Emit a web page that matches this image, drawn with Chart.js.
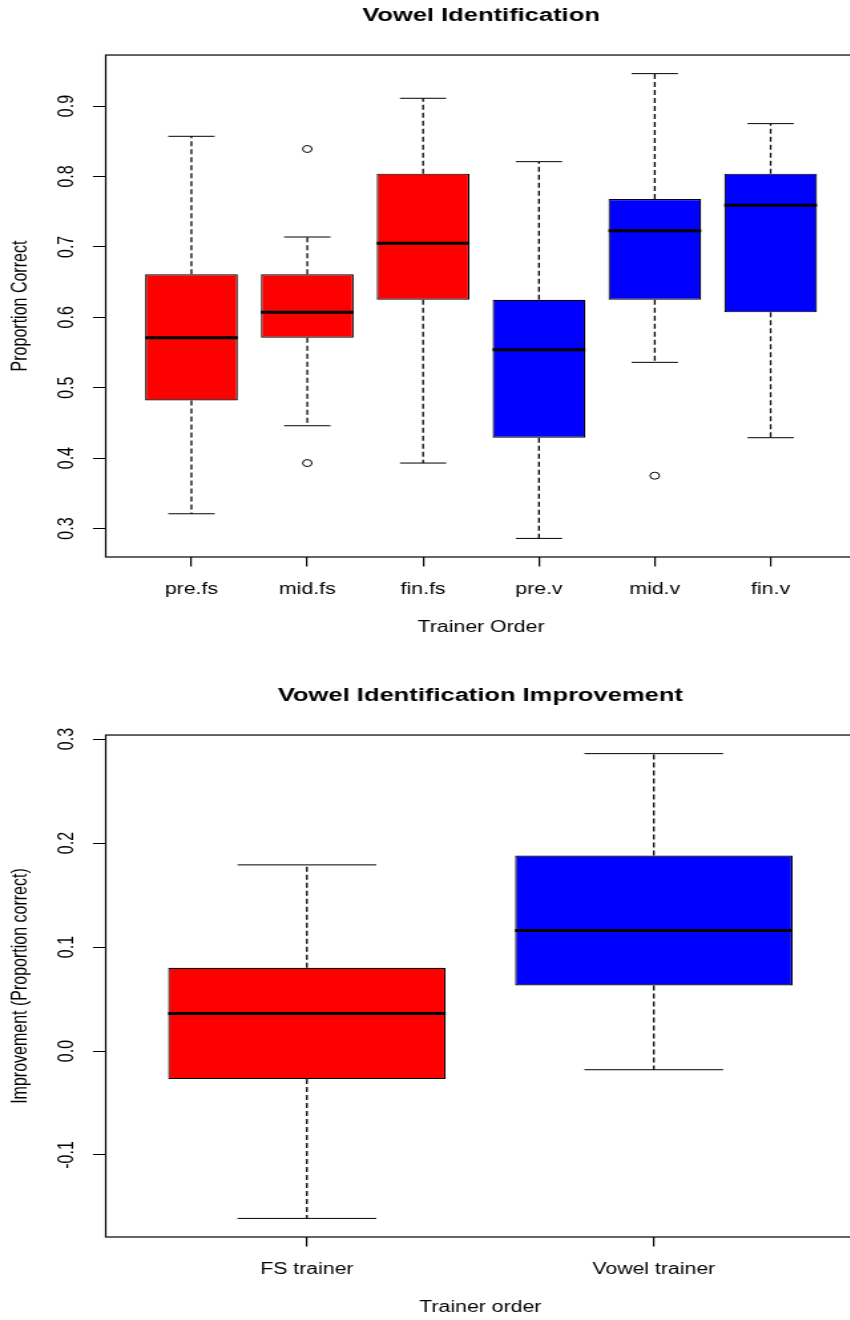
<!DOCTYPE html>
<html>
<head>
<meta charset="utf-8">
<script src="https://cdn.jsdelivr.net/npm/chart.js@4.4.1/dist/chart.umd.min.js"></script>
<style>
  html, body { margin: 0; padding: 0; overflow: hidden; background: #fff; }
  .plot { position: absolute; left: 0; }
  /* the original R plot was stretched sideways (about 1.33x), so the canvases are too */
  #idChart { width: 863px !important; height: 660px !important; }
  #impChart { width: 855px !important; height: 660px !important; }
</style>
</head>
<body>
<div class="plot" style="top:0"><canvas id="idChart" width="649" height="660"></canvas></div>
<div class="plot" style="top:680px"><canvas id="impChart" width="643" height="660"></canvas></div>
<script>
// --------- DATA: Vowel Identification ----------
const orderLabels = ['pre.fs', 'mid.fs', 'fin.fs', 'pre.v', 'mid.v', 'fin.v'];
const idLow    = [0.321, 0.446, 0.393, 0.286, 0.536, 0.429];
const idQ1     = [0.482, 0.571, 0.625, 0.429, 0.625, 0.607];
const idMedian = [0.571, 0.607, 0.705, 0.554, 0.723, 0.759];
const idQ3     = [0.661, 0.661, 0.804, 0.625, 0.768, 0.804];
const idHigh   = [0.857, 0.714, 0.911, 0.821, 0.946, 0.875];
const idOutliers = [[], [0.839, 0.393], [], [], [0.375], []];
const idTicks  = [0.3, 0.4, 0.5, 0.6, 0.7, 0.8, 0.9];

// --------- DATA: Vowel Identification Improvement ----------
const trainerLabels = ['FS trainer', 'Vowel trainer'];
const impLow    = [-0.161, -0.018];
const impQ1     = [-0.027, 0.063];
const impMedian = [0.036, 0.116];
const impQ3     = [0.080, 0.188];
const impHigh   = [0.179, 0.286];
const impOutliers = [[], []];
const impTicks  = [-0.1, 0.0, 0.1, 0.2, 0.3];

const RED = '#FF0000';
const BLUE = '#0000FF';
const FONT = "'Liberation Sans', Arial, sans-serif";

Chart.defaults.font.family = FONT;
Chart.defaults.color = '#000';

// box outline around the plotting region, like R's bty="o"
const framePlugin = {
    id: 'frame',
    afterDraw(chart) {
        const {ctx, chartArea: a} = chart;
        ctx.save();
        ctx.strokeStyle = '#000';
        ctx.lineWidth = 1.2;
        ctx.strokeRect(a.left, a.top, a.right - a.left, a.bottom - a.top);
        ctx.restore();
    }
};

// ---------- build one boxplot chart ----------
function boxplot(canvasId, s) {
    const n = s.labels.length;
    const boxes = [], whiskers = [], caps = [], medians = [], points = [];

    s.low.forEach((lo, i) => {
        const x = i + 1;
        boxes.push({x, y: [s.q1[i], s.q3[i]]});
        whiskers.push({x, y: s.q3[i]}, {x, y: s.high[i]}, {x, y: null},
                      {x, y: s.q1[i]}, {x, y: lo}, {x, y: null});
        caps.push({x: x - 0.2, y: s.high[i]}, {x: x + 0.2, y: s.high[i]}, {x, y: null},
                  {x: x - 0.2, y: lo}, {x: x + 0.2, y: lo}, {x, y: null});
        medians.push({x: x - 0.4, y: s.median[i]}, {x: x + 0.4, y: s.median[i]}, {x, y: null});
        s.outliers[i].forEach(v => points.push({x, y: v}));
    });

    // R style axis limits: 4% past the data
    const all = s.low.concat(s.high, ...s.outliers);
    const lo = Math.min(...all), hi = Math.max(...all);
    const pad = (hi - lo) * 0.04;

    return new Chart(document.getElementById(canvasId), {
        type: 'bar',
        data: {
            datasets: [
                {
                    type: 'line', data: medians, order: 0,
                    borderColor: '#000', borderWidth: 3, pointRadius: 0, fill: false
                },
                {
                    type: 'line', data: points, order: 1, showLine: false,
                    pointRadius: 3.5, pointStyle: 'circle',
                    pointBackgroundColor: 'rgba(0,0,0,0)', pointBorderColor: '#000', pointBorderWidth: 1
                },
                {
                    type: 'bar', data: boxes, order: 2,
                    backgroundColor: s.colors, borderColor: '#000', borderWidth: 1.2,
                    borderSkipped: false, categoryPercentage: 0.8, barPercentage: 1
                },
                {
                    type: 'line', data: whiskers, order: 3,
                    borderColor: '#000', borderWidth: 1.3, borderDash: [5, 3], pointRadius: 0, fill: false
                },
                {
                    type: 'line', data: caps, order: 3,
                    borderColor: '#000', borderWidth: 1, pointRadius: 0, fill: false
                }
            ]
        },
        options: {
            responsive: false,
            animation: false,
            events: [],
            layout: { padding: 0 },
            plugins: {
                legend: { display: false },
                tooltip: { enabled: false },
                title: {
                    display: true,
                    text: s.title,
                    fullSize: false,
                    color: '#000',
                    font: { size: 19.2, weight: 'bold' },
                    padding: { top: 4.5, bottom: 27.5 }
                }
            },
            scales: {
                x: {
                    type: 'linear',
                    min: 0.5 - 0.04 * n,
                    max: n + 0.5 + 0.04 * n,
                    offset: false,
                    afterBuildTicks: axis => { axis.ticks = s.labels.map((_, i) => ({value: i + 1})); },
                    afterFit: scale => { scale.height = 103; },
                    ticks: {
                        callback: (v, i) => s.labels[i],
                        font: { size: 16 },
                        padding: 13.8,
                        maxRotation: 0,
                        autoSkip: false
                    },
                    grid: { drawOnChartArea: false, offset: false, tickLength: 9.6, color: '#000', lineWidth: 1.2 },
                    border: { display: false },
                    title: {
                        display: true, text: s.xTitle,
                        font: { size: 16 }, padding: { top: 0, bottom: 22.4 }
                    }
                },
                y: {
                    type: 'linear',
                    min: lo - pad,
                    max: hi + pad,
                    afterBuildTicks: axis => { axis.ticks = s.ticks.map(v => ({value: v})); },
                    afterFit: scale => { scale.width = 79.5; },
                    ticks: {
                        callback: v => v.toFixed(1),
                        font: { size: 16 },
                        minRotation: 90,
                        maxRotation: 90,
                        crossAlign: 'center',
                        padding: s.tickPad
                    },
                    grid: { drawOnChartArea: false, tickLength: 9.6, color: '#000' },
                    border: { display: false },
                    title: {
                        display: true, text: s.yTitle,
                        font: { size: 16 }, padding: { top: 6.4, bottom: 0 }
                    }
                }
            }
        },
        plugins: [framePlugin]
    });
}

boxplot('idChart', {
    title: 'Vowel Identification',
    xTitle: 'Trainer Order',
    yTitle: 'Proportion Correct',
    labels: orderLabels,
    low: idLow, q1: idQ1, median: idMedian, q3: idQ3, high: idHigh,
    outliers: idOutliers,
    ticks: idTicks,
    colors: [RED, RED, RED, BLUE, BLUE, BLUE],
    tickPad: 7.8
});

boxplot('impChart', {
    title: 'Vowel Identification Improvement',
    xTitle: 'Trainer order',
    yTitle: 'Improvement (Proportion correct)',
    labels: trainerLabels,
    low: impLow, q1: impQ1, median: impMedian, q3: impQ3, high: impHigh,
    outliers: impOutliers,
    ticks: impTicks,
    colors: [RED, BLUE],
    tickPad: 5.1
});
</script>
</body>
</html>
